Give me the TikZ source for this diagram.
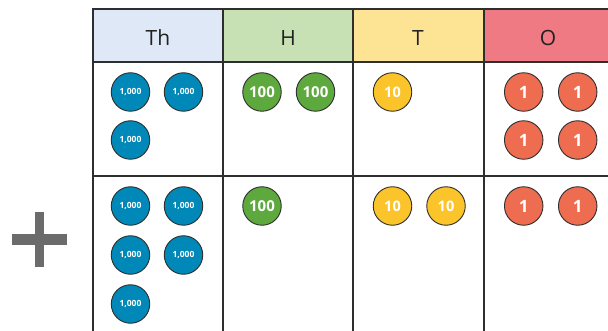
\documentclass[tikz,border=0pt]{standalone}
\usepackage{fontspec}
\setmainfont{Open Sans}
\definecolor{hTh}{HTML}{DEE8F6}
\definecolor{hH}{HTML}{C7E0B4}
\definecolor{hT}{HTML}{FDE394}
\definecolor{hO}{HTML}{F07A84}
\definecolor{cTh}{HTML}{0089B8}
\definecolor{cH}{HTML}{5EA93E}
\definecolor{cT}{HTML}{FCC42B}
\definecolor{cO}{HTML}{EE6C50}
\definecolor{gridc}{HTML}{2E2E2E}
\definecolor{plusc}{HTML}{6B6B6B}
\tikzset{
  coin/.style={circle, draw=gridc, line width=0.9pt, minimum size=38.5pt, inner sep=0pt, text=white},
  thcoin/.style={coin, fill=cTh, font=\fontsize{8.5}{9}\selectfont\bfseries},
  hcoin/.style={coin, fill=cH, font=\fontsize{15}{16}\selectfont\bfseries},
  tcoin/.style={coin, fill=cT, font=\fontsize{14.5}{16}\selectfont\bfseries},
  ocoin/.style={coin, fill=cO, font=\fontsize{17}{18}\selectfont\bfseries},
  gridline/.style={draw=gridc, line width=2pt},
  headtxt/.style={font=\fontsize{21}{22}\selectfont, text=black!87}
}
\begin{document}
\begin{tikzpicture}[x=1pt,y=-1pt]
\useasboundingbox (0,0) rectangle (608,331);
\clip (0,0) rectangle (608,331);
\fill[white] (0,0) rectangle (608,331);
% header fills
\fill[hTh] (92.5,9) rectangle (223.3,62);
\fill[hH] (223.3,9) rectangle (353.3,62);
\fill[hT] (353.3,9) rectangle (483.5,62);
\fill[hO] (483.5,9) rectangle (620,62);
% grid
\draw[gridline] (620,9) -- (92.5,9) -- (92.5,340);
\draw[gridline] (92.5,62) -- (620,62);
\draw[gridline] (92.5,176) -- (620,176);
\draw[gridline] (223.3,9) -- (223.3,340);
\draw[gridline] (353.3,9) -- (353.3,340);
\draw[gridline] (483.5,9) -- (483.5,340);
% headers
\node[headtxt] (hth) at (158,38) {Th};
\node[headtxt] (hh) at (288,38) {H};
\node[headtxt] (ht) at (418,38) {T};
\node[headtxt] (ho) at (548,38) {O};
% row 1
\node[thcoin] (a1) at (130.5,92) {1,000};
\node[thcoin] (a2) at (183.5,92) {1,000};
\node[thcoin] (a3) at (130.5,140) {1,000};
\node[hcoin] (b1) at (262,92) {100};
\node[hcoin] (b2) at (315.5,92) {100};
\node[tcoin] (c1) at (392.5,92) {10};
\node[ocoin] (d1) at (523.7,92) {1};
\node[ocoin] (d2) at (577.7,92) {1};
\node[ocoin] (d3) at (523.7,140) {1};
\node[ocoin] (d4) at (577.7,140) {1};
% row 2
\node[thcoin] (e1) at (130.5,206) {1,000};
\node[thcoin] (e2) at (183.5,206) {1,000};
\node[thcoin] (e3) at (130.5,255) {1,000};
\node[thcoin] (e4) at (183.5,255) {1,000};
\node[thcoin] (e5) at (130.5,304) {1,000};
\node[hcoin] (f1) at (262,206) {100};
\node[tcoin] (g1) at (392.5,206) {10};
\node[tcoin] (g2) at (446,206) {10};
\node[ocoin] (k1) at (523.7,206) {1};
\node[ocoin] (k2) at (577.7,206) {1};
% plus sign
\fill[plusc] (12,234.5) rectangle (67,245);
\fill[plusc] (35,212) rectangle (44.3,267);
\end{tikzpicture}
\end{document}
